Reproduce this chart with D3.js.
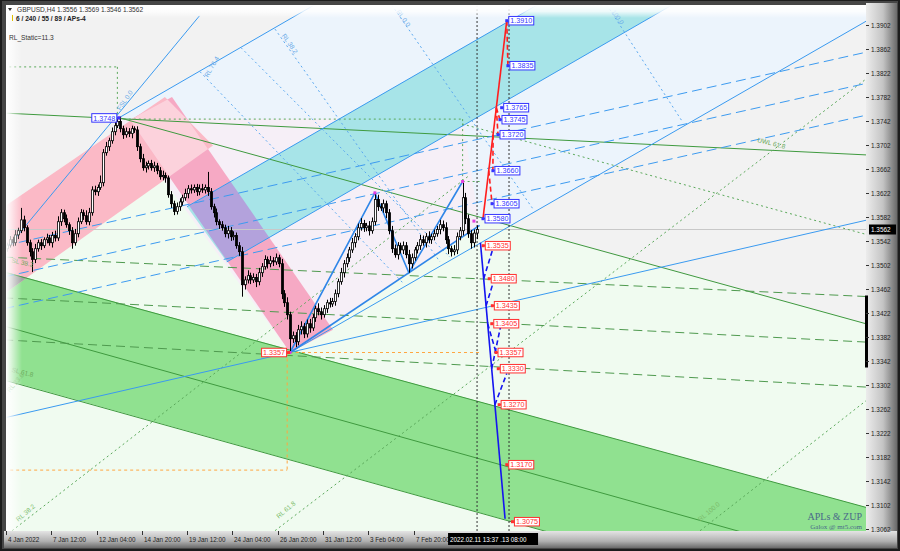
<!DOCTYPE html>
<html><head><meta charset="utf-8">
<script src="https://cdn.jsdelivr.net/npm/d3@7"></script>
<style>body{margin:0;background:#262626;} svg{display:block;font-family:"Liberation Sans",Arial,sans-serif;}</style>
</head><body><svg id="c" width="900" height="551"></svg>
<script>
// ---------------- DATA ----------------
const symbolTitle = "GBPUSD,H4  1.3556 1.3569 1.3546 1.3562";
const indicatorTitle = "6 / 240 / 55 / 89 / APs-4";
const staticTitle = "RL_Static=11.3";
const timeLabels = ["4 Jan 2022","7 Jan 12:00","12 Jan 04:00","14 Jan 20:00","19 Jan 12:00","24 Jan 04:00","26 Jan 20:00","31 Jan 12:00","3 Feb 04:00","7 Feb 20:00"];
const timeLabelBars = [0,16,32,48,64,80,96,112,128,144];
const priceTicks = [1.3062,1.3102,1.3142,1.3182,1.3222,1.3262,1.3302,1.3342,1.3382,1.3422,1.3462,1.3502,1.3542,1.3582,1.3622,1.3662,1.3702,1.3742,1.3782,1.3822,1.3862,1.3902];
const firstOpen = 1.3530;
const closes = [1.3536,1.3545,1.3540,1.3553,1.3560,1.3578,1.3565,1.3540,1.3525,1.3512,
1.3530,1.3540,1.3535,1.3545,1.3548,1.3540,1.3552,1.3548,1.3575,1.3590,
1.3580,1.3570,1.3560,1.3540,1.3555,1.3575,1.3590,1.3585,1.3575,1.3590,
1.3628,1.3625,1.3632,1.3640,1.3690,1.3700,1.3710,1.3725,1.3735,1.3742,
1.3730,1.3720,1.3725,1.3722,1.3730,1.3728,1.3700,1.3680,1.3665,1.3668,
1.3672,1.3665,1.3668,1.3660,1.3650,1.3652,1.3648,1.3620,1.3605,1.3592,
1.3600,1.3608,1.3615,1.3622,1.3630,1.3628,1.3632,1.3625,1.3630,1.3628,
1.3632,1.3625,1.3600,1.3590,1.3575,1.3570,1.3565,1.3555,1.3560,1.3550,
1.3552,1.3535,1.3525,1.3470,1.3478,1.3485,1.3478,1.3482,1.3475,1.3490,
1.3500,1.3512,1.3505,1.3510,1.3508,1.3515,1.3505,1.3455,1.3440,1.3420,
1.3380,1.3385,1.3375,1.3395,1.3400,1.3388,1.3405,1.3398,1.3415,1.3430,
1.3425,1.3420,1.3430,1.3440,1.3438,1.3442,1.3455,1.3475,1.3490,1.3505,
1.3515,1.3528,1.3540,1.3550,1.3565,1.3572,1.3565,1.3568,1.3560,1.3575,
1.3612,1.3600,1.3598,1.3605,1.3590,1.3560,1.3530,1.3520,1.3535,1.3528,
1.3535,1.3520,1.3505,1.3515,1.3528,1.3535,1.3545,1.3540,1.3550,1.3545,
1.3550,1.3555,1.3562,1.3570,1.3565,1.3545,1.3530,1.3525,1.3528,1.3550,
1.3560,1.3615,1.3580,1.3555,1.3540,1.3556,1.3562];
const upperWickPips = [4,6,5,8,5,20,7,4,5,6, 8,5,6,4,7,5,6,8,9,6, 5,7,4,6,8,7,6,5,9,8, 6,7,5,12,6,8,5,7,6,6,
8,5,7,6,5,4,6,5,8,7, 5,6,7,5,6,8,5,4,6,5, 7,6,5,8,6,7,5,6,7,8, 5,26,6,5,7,4,6,5,8,6,
7,5,6,8,6,9,5,7,6,8, 6,7,5,8,6,7,5,8,6,9, 5,7,6,8,9,6,7,8,6,5, 9,7,6,5,8,6,7,5,8,6,
7,5,8,6,7,9,6,5,8,7, 10,8,6,7,5,6,8,7,6,5, 7,6,8,7,5,6,8,7,6,9, 5,7,6,8,7,9,6,5,8,7, 6,25,8,7,6,6,7];
const lowerWickPips = [5,4,6,5,7,4,6,5,8,21, 6,5,7,4,6,5,8,6,5,7, 6,5,7,10,5,6,4,7,5,6, 5,6,7,4,6,5,7,5,6,4,
6,7,5,6,8,5,7,6,5,8, 6,5,7,6,5,6,8,5,7,6, 5,7,6,5,8,6,5,7,6,5, 6,7,5,8,6,7,5,6,8,7,
6,5,7,20,8,6,7,5,9,6, 7,5,8,6,7,5,6,9,7,8, 23,7,9,6,8,7,6,8,5,7, 6,8,5,7,6,5,7,6,5,8,
6,7,5,8,6,5,7,6,8,5, 6,7,5,8,9,6,7,5,8,6, 7,6,15,8,5,6,7,5,8,6, 7,6,5,8,6,7,9,8,6,7, 6,8,9,7,10,8,10];
const currentPrice = 1.3562;

// ZUP projections
const upLevels   = [1.3580,1.3605,1.3660,1.3720,1.3745,1.3765,1.3835,1.3910];
const upMarkBars = [168.2,171.4,171.7,173.5,174.2,174.8,177.0,176.6];
const upSolid = [[168.2,1.3580],[176.6,1.3910]];
const upDashPairs = [[1.3765,174.2,1.3745],[1.3765,173.5,1.3720],[1.3720,171.7,1.3660],[1.3660,171.4,1.3605],[1.3910,177.0,1.3835]];
const downLevels   = [1.3535,1.3480,1.3435,1.3405,1.3357,1.3330,1.3270,1.3170,1.3075];
const downMarkBars = [168.3,170.4,171.5,171.3,172.8,173.6,173.9,176.6,178.6];
const downSolid = [[167.3,1.3540],[176.0,1.3080]];
const downDashPairs = [[1.3480,171.7,1.3530],[1.3435,172.1,1.3478],[1.3330,174.4,1.3400],[1.3270,176.6,1.3322],[1.3405,172.8,1.3357]];
const pivotHigh = [39.5,1.3748];
const pivotLow  = [100,1.3357];
const pivotDots = [[39.5,1.3748],[100,1.3357],[130,1.3623],[161,1.3642],[165,1.3576]];
const nowBars = [166.1,177.4];

// drawing objects (bar index, price)
const regionLightBlue = [[39.5,1.3748],[118,1.3962],[305,1.3962],[305,1.3913],[100,1.3357]];
const regionLightGreen = [[-1,1.3465],[72.8,1.3702],[305,1.3403],[305,1.3000],[-1,1.3000]];
const regionLavender = [[39.5,1.3746],[161,1.3746],[167,1.3569],[100,1.3357]];
const regionPinkUp = [[-1,1.3600],[55.8,1.3783],[72.8,1.3702],[-1,1.3455]];
const regionPinkDown = [[43.5,1.3745],[58.3,1.3783],[115.2,1.3395],[100,1.3357]];
const regionCyan = [[63.6,1.3600],[187.6,1.3937],[235.3,1.3937],[77.7,1.3508]];
const regionGreenBand = [[-1,1.3492],[305,1.3097],[305,1.2908],[-1,1.3312]];

const blueSolid = [
  [[-1,1.3525],[68,1.3918]],
  [[39.5,1.3748],[118,1.3962]],
  [[-1,1.3248],[305,1.3579]],
  [[100,1.3357],[305,1.3913]],
  [[63.6,1.3600],[187.6,1.3937]],
  [[77.7,1.3508],[235.3,1.3937]]
];
const blueZigzag = [[100,1.3357],[130,1.3623],[142,1.3490],[161,1.3642]];
const blueTrend = [[100,1.3357],[167,1.3569]];
const blueDashed = [
  [[-1,1.3535],[305,1.3859]],
  [[-1,1.3483],[305,1.3807]],
  [[-1,1.3430],[305,1.3754]]
];
const blueDotted = [
  [[68.2,1.3825],[139.9,1.3473]],
  [[82.7,1.3865],[156.5,1.3516]],
  [[94.7,1.3896],[153.0,1.3508]],
  [[136.0,1.3936],[185.9,1.3596]],
  [[212.0,1.3936],[238.9,1.3740]]
];
const greenSolid = [
  [[-1,1.3756],[305,1.3686]],
  [[39.9,1.3748],[305,1.3403]],
  [[-1,1.3491],[305,1.3097]],
  [[-1,1.3311],[305,1.2908]],
  [[-1,1.3401],[305,1.2998]]
];
const greenDashed = [
  [[-1,1.3516],[305,1.3450]],
  [[-1,1.3448],[305,1.3374]],
  [[-1,1.3378],[305,1.3299]]
];
const greenDotted = [
  [[94.7,1.3060],[305,1.3818]],
  [[244.9,1.3060],[305,1.3282]],
  [[1.8,1.3060],[163.6,1.3653]],
  [[160.8,1.3738],[305,1.3552]],
  [[39.5,1.3746],[161,1.3746]],
  [[161,1.3746],[161,1.3642]],
  [[161,1.3642],[167,1.3642]],
  [[39,1.3833],[39,1.3746]],
  [[-1,1.3833],[39,1.3833]]
];
const orangeDotted = [
  [[100,1.3357],[167,1.3357]],
  [[99,1.3357],[99,1.3161]],
  [[-1,1.3161],[99,1.3161]]
];
const lineTexts = [
  {t:"UWL 61.8", b:265, p:1.3708, a:14, c:"#6aa85a"},
  {t:"SL 38.2", b:1.5, p:1.3507, a:12, c:"#6aa85a"},
  {t:"SL 61.8", b:1.5, p:1.3325, a:14, c:"#6aa85a"},
  {t:"RL 23.6", b:1.0, p:1.3290, a:-50, c:"#7cbc6c"},
  {t:"RL 38.2", b:4, p:1.3075, a:-40, c:"#7cbc6c"},
  {t:"RL 61.8", b:96, p:1.3080, a:-40, c:"#7cbc6c"},
  {t:"RL 100.0", b:245, p:1.3075, a:-40, c:"#7cbc6c"},
  {t:"FSL 0.0", b:40, p:1.3760, a:-55, c:"#6aaae8"},
  {t:"RL 76.4", b:71, p:1.3815, a:-60, c:"#6aaae8"},
  {t:"RL 38.2", b:97, p:1.3885, a:55, c:"#6aaae8"},
  {t:"RL 0.0", b:137.5, p:1.3925, a:55, c:"#6aaae8"},
  {t:"100.0", b:213.5, p:1.3925, a:55, c:"#6aaae8"}
];

// ---------------- CHART ----------------
const svg = d3.select("#c");
const P = {l:6, r:866, t:5, b:531};
const x = d3.scaleLinear().domain([0,304]).range([7,867.3]);
const y = d3.scaleLinear().domain([1.3062,1.3902]).range([529.5,25.5]);
const defs = svg.append("defs");

function lg(id, x1,y1,x2,y2, stops){
  const g = defs.append("linearGradient").attr("id",id).attr("x1",x1).attr("y1",y1).attr("x2",x2).attr("y2",y2);
  stops.forEach(s=>g.append("stop").attr("offset",s[0]).attr("stop-color",s[1]).attr("stop-opacity",s[2]===undefined?1:s[2]));
}
lg("gRight","0","0","1","0",[[0,"#ececec"],[0.55,"#c4c4c4"],[1,"#6a6a6a"]]);
lg("gBottom","0","0","0","1",[[0,"#e4e4e4"],[0.6,"#b0b0b0"],[1,"#6a6a6a"]]);
lg("fadeL","0","0","1","0",[[0,"#ffffff",1],[1,"#ffffff",0]]);
lg("fadeT","0","0","0","1",[[0,"#ffffff",1],[0.5,"#ffffff",0.8],[1,"#ffffff",0]]);

// frame
svg.append("rect").attr("width",900).attr("height",551).attr("fill","#1c1c1c");
svg.append("rect").attr("x",2).attr("y",1).attr("width",896).attr("height",548).attr("fill","#464646");
svg.append("rect").attr("x",P.r).attr("y",3).attr("width",31).attr("height",545).attr("fill","url(#gRight)");
svg.append("rect").attr("x",4).attr("y",P.b).attr("width",893).attr("height",17).attr("fill","url(#gBottom)");

defs.append("clipPath").attr("id","plotClip").append("rect")
  .attr("x",P.l).attr("y",P.t).attr("width",P.r-P.l).attr("height",P.b-P.t);
const g = svg.append("g").attr("clip-path","url(#plotClip)");
g.append("rect").attr("x",P.l).attr("y",P.t).attr("width",P.r-P.l).attr("height",P.b-P.t).attr("fill","#f2f2f2");

const poly = pts => pts.map(d=>[x(d[0]),y(d[1])].join(",")).join(" ");
function region(pts, fill, parent){ (parent||g).append("polygon").attr("points",poly(pts)).attr("fill",fill); }
function clipPoly(id, pts){ defs.append("clipPath").attr("id",id).append("polygon").attr("points",poly(pts)); }

region(regionLightBlue,"#ecf4fc");
region(regionLightGreen,"#f0fbf0");
region(regionLavender,"#f6eff7");
region(regionGreenBand,"#90e190");
region(regionPinkUp,"#fbb9c6");
region(regionPinkDown,"#f6a9c4");
clipPoly("cPinkDown",regionPinkDown);
clipPoly("cPinkUp",regionPinkUp);
region(regionPinkUp,"#fcd2dc", g.append("g").attr("clip-path","url(#cPinkDown)"));
region(regionGreenBand,"#a4a4a4", g.append("g").attr("clip-path","url(#cPinkUp)"));
region(regionCyan,"#a7e4e8");
region(regionCyan,"#b3a2dc", g.append("g").attr("clip-path","url(#cPinkDown)"));

g.append("line").attr("x1",P.l).attr("x2",P.r).attr("y1",y(currentPrice)).attr("y2",y(currentPrice)).attr("stroke","#c8c8c8").attr("stroke-width",1);

const line2 = d3.line().x(d=>x(d[0])).y(d=>y(d[1]));
function lines(arr, color, width, dash, op){
  arr.forEach(s=>g.append("path").attr("d",line2(s)).attr("fill","none").attr("stroke",color)
    .attr("stroke-width",width).attr("stroke-dasharray",dash||null).attr("opacity",op||1));
}
lines(greenSolid,"#3f9a3f",1);
lines(greenDashed,"#4f9a4f",1,"9,5");
lines(greenDotted,"#5aa85a",1,"2,3");
lines(orangeDotted,"#ffa640",1,"3,3");
lines(blueDotted,"#5aa8f0",1,"2,3");
lines(blueDashed,"#3d9bf0",1,"10,5");
lines(blueSolid,"#3a9af0",1);
lines([blueTrend],"#2f86e8",1.6);
lines([blueZigzag],"#2f86e8",1.6);

nowBars.forEach(b=>g.append("line").attr("x1",x(b)).attr("x2",x(b)).attr("y1",P.t).attr("y2",P.b)
  .attr("stroke","#333").attr("stroke-dasharray","2,2").attr("stroke-width",1));

// candles
const bw = 2;
closes.forEach((c,i)=>{
  const o = i===0 ? firstOpen : closes[i-1];
  const hi = Math.max(o,c) + upperWickPips[i]/10000;
  const lo = Math.min(o,c) - lowerWickPips[i]/10000;
  const cx = Math.round(x(i))+0.5;
  g.append("line").attr("x1",cx).attr("x2",cx).attr("y1",y(hi)).attr("y2",y(lo)).attr("stroke","#000").attr("stroke-width",1);
  const top = y(Math.max(o,c)), bot = y(Math.min(o,c));
  g.append("rect").attr("x",cx-1).attr("y",top).attr("width",bw).attr("height",Math.max(1,bot-top))
    .attr("fill", c>=o ? "#ffffff" : "#000").attr("stroke","#000").attr("stroke-width",0.8);
});

// ZUP projections
lines([upSolid],"#ff1e1e",1.6);
lines(upDashPairs.map(p=>{
  const f=(p[0]-upSolid[0][1])/(upSolid[1][1]-upSolid[0][1]);
  return [[upSolid[0][0]+f*(upSolid[1][0]-upSolid[0][0]),p[0]],[p[1],p[2]]];
}),"#ff1e1e",1.6,"5,3");
lines([downSolid],"#1414f0",1.6);
lines(downDashPairs.map(p=>{
  const f=(p[0]-downSolid[0][1])/(downSolid[1][1]-downSolid[0][1]);
  return [[downSolid[0][0]+f*(downSolid[1][0]-downSolid[0][0]),p[0]],[p[1],p[2]]];
}),"#1414f0",1.6,"5,3");

pivotDots.forEach(d=>g.append("rect").attr("x",x(d[0])-1.5).attr("y",y(d[1])-1.5).attr("width",3).attr("height",3).attr("fill","#e040e0"));

lineTexts.forEach(d=>g.append("text").attr("transform",`translate(${x(d.b)},${y(d.p)}) rotate(${d.a})`)
  .attr("font-size",6.5).attr("fill",d.c).text(d.t));

g.append("rect").attr("x",P.l).attr("y",P.t).attr("width",16).attr("height",P.b-P.t).attr("fill","url(#fadeL)");
g.append("rect").attr("x",P.l).attr("y",P.t).attr("width",P.r-P.l).attr("height",13).attr("fill","url(#fadeT)");

function priceLabel(bar, price, color, left){
  const mx = x(bar), my = y(price);
  const w = 25, h = 8.5;
  const bx = left ? mx - w - 2 : mx + 2;
  g.append("line").attr("x1",mx).attr("x2",left?bx+w:bx).attr("y1",my).attr("y2",my).attr("stroke",color).attr("stroke-width",1);
  g.append("rect").attr("x",mx-1.5).attr("y",my-1.5).attr("width",3).attr("height",3).attr("fill",color);
  g.append("rect").attr("x",bx).attr("y",my-h/2).attr("width",w).attr("height",h).attr("fill","#ffffff").attr("stroke",color).attr("stroke-width",1);
  g.append("text").attr("x",bx+w/2).attr("y",my+2.6).attr("text-anchor","middle").attr("font-size",7.2)
    .attr("fill",color).text(price.toFixed(4));
}
upLevels.forEach((p,i)=>priceLabel(upMarkBars[i],p,"#3535ff",false));
downLevels.forEach((p,i)=>priceLabel(downMarkBars[i],p,"#ff3030",false));
priceLabel(pivotHigh[0],pivotHigh[1],"#3535ff",true);
priceLabel(pivotLow[0]-0.5,pivotLow[1],"#ff3030",true);

g.append("text").attr("x",862).attr("y",520).attr("text-anchor","end").attr("font-family","Liberation Serif, serif").attr("font-size",10).attr("fill","#4a6a8a").text("APLs & ZUP");
g.append("text").attr("x",862).attr("y",529).attr("text-anchor","end").attr("font-family","Liberation Serif, serif").attr("font-size",7).attr("fill","#4a6a8a").text("Galox @ mt5.com");

svg.append("path").attr("d","M8,8 L12,8 L10,11 Z").attr("fill","#333");
svg.append("text").attr("x",17).attr("y",12).attr("font-size",6.6).attr("fill","#333").text(symbolTitle);
svg.append("rect").attr("x",12).attr("y",15).attr("width",1).attr("height",6).attr("fill","#e0c000");
svg.append("text").attr("x",16).attr("y",21).attr("font-size",6.6).attr("font-weight","bold").attr("fill","#222").text(indicatorTitle);
svg.append("text").attr("x",9).attr("y",40).attr("font-size",6.6).attr("fill","#333").text(staticTitle);

svg.append("rect").attr("x",P.r-1).attr("y",y(1.3452)).attr("width",3).attr("height",y(1.3332)-y(1.3452)).attr("fill","#000");

const ya = svg.append("g");
priceTicks.forEach(p=>{
  ya.append("line").attr("x1",P.r).attr("x2",P.r+3).attr("y1",y(p)).attr("y2",y(p)).attr("stroke","#333");
  ya.append("text").attr("x",P.r+5).attr("y",y(p)+2.3).attr("font-size",6.4).attr("fill","#222").text(p.toFixed(4));
});
ya.append("rect").attr("x",P.r+3).attr("y",y(currentPrice)-5).attr("width",27).attr("height",10).attr("fill","#000");
ya.append("text").attr("x",P.r+5).attr("y",y(currentPrice)+2.3).attr("font-size",6.4).attr("fill","#fff").text(currentPrice.toFixed(4));

const xa = svg.append("g");
timeLabelBars.forEach((b,i)=>{
  const tx = Math.round(x(b))-0.5;
  xa.append("line").attr("x1",tx).attr("x2",tx).attr("y1",P.b).attr("y2",P.b+4).attr("stroke","#333");
  xa.append("text").attr("x",tx+1.5).attr("y",P.b+11).attr("font-size",6.3).attr("fill","#222").text(timeLabels[i]);
});
xa.append("rect").attr("x",x(nowBars[0])-29).attr("y",P.b+2).attr("width",90).attr("height",12).attr("fill","#000");
xa.append("text").attr("x",x(nowBars[0])-27).attr("y",P.b+11).attr("font-size",6.3).attr("fill","#fff").text("2022.02.11 13:37   .13 08:00");
</script></body></html>
